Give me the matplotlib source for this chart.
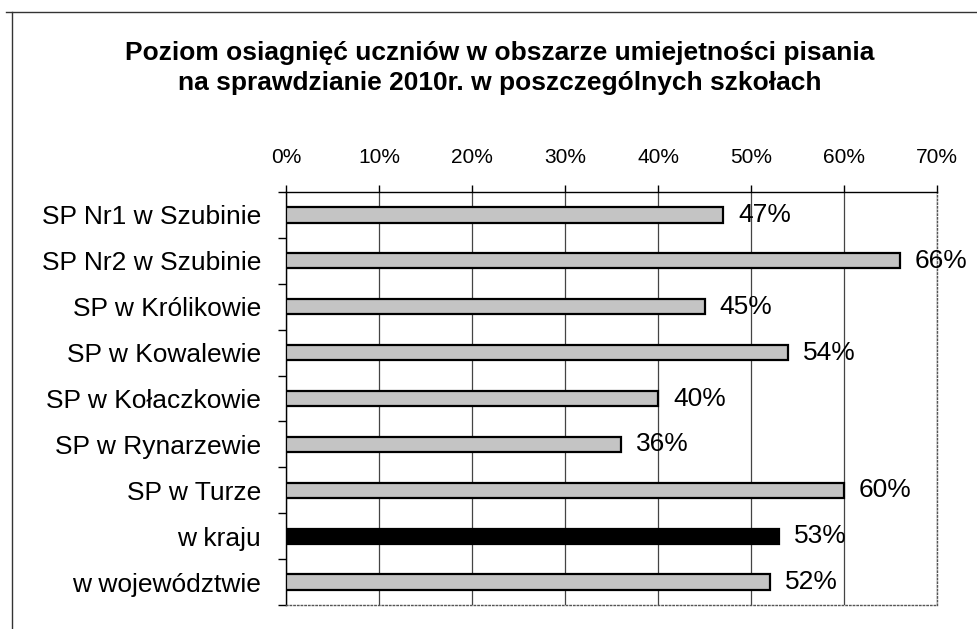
import matplotlib
matplotlib.use("Agg")
import matplotlib.pyplot as plt
from matplotlib.lines import Line2D

plt.rcParams['font.family'] = ['Liberation Sans', 'DejaVu Sans']

categories = ["SP Nr1 w Szubinie", "SP Nr2 w Szubinie", "SP w Królikowie",
              "SP w Kowalewie", "SP w Kołaczkowie", "SP w Rynarzewie",
              "SP w Turze", "w kraju", "w województwie"]
values = [47, 66, 45, 54, 40, 36, 60, 53, 52]
bar_colors = ["#c4c4c4"] * 7 + ["#000000", "#c4c4c4"]
value_labels = [f"{v}%" for v in values]
xticks = [0, 10, 20, 30, 40, 50, 60, 70]
xtick_labels = [f"{t}%" for t in xticks]
title = "Poziom osiagnięć uczniów w obszarze umiejetności pisania\nna sprawdzianie 2010r. w poszczególnych szkołach"

W, H = 978, 629
fig = plt.figure(figsize=(W / 100, H / 100), dpi=100)
ax = fig.add_axes([286 / W, 1 - 605 / H, (937 - 286) / W, (605 - 192) / H])

n = len(categories)
ypos = list(range(n))
ax.barh(ypos, values, height=0.33, color=bar_colors, edgecolor="black", linewidth=1.6, zorder=3)
ax.set_ylim(n - 0.5, -0.5)
ax.set_xlim(0, 70)

ax.set_xticks(xticks)
ax.set_xticklabels(xtick_labels, fontsize=15)
ax.xaxis.tick_top()
ax.tick_params(axis='x', which='major', length=5, pad=13, direction='out', color='black', width=1)

ax.set_yticks(ypos)
ax.set_yticklabels(categories, fontsize=19)
ax.tick_params(axis='y', which='major', length=0, pad=18)
ax.set_yticks([i + 0.5 for i in range(-1, n)], minor=True)
ax.tick_params(axis='y', which='minor', length=6, width=1, color='black')

ax.grid(axis='x', color='#444444', linewidth=0.9, zorder=0)

for s in ['top', 'left']:
    ax.spines[s].set_color('black')
    ax.spines[s].set_linewidth(1.0)
for s in ['right', 'bottom']:
    ax.spines[s].set_color('#555555')
    ax.spines[s].set_linewidth(1.0)
    ax.spines[s].set_linestyle(':')

for y, v, lab in zip(ypos, values, value_labels):
    ax.text(v + 1.6, y, lab, va='center', ha='left', fontsize=19, zorder=4)

fig.text(500 / W, 1 - 68 / H, title, ha='center', va='center', fontsize=19,
         fontweight='bold', linespacing=1.28)

fig.add_artist(Line2D([6 / W, 1.0], [1 - 12 / H, 1 - 12 / H], color='#333333', lw=1))
fig.add_artist(Line2D([12 / W, 12 / W], [0, 1 - 12 / H], color='#333333', lw=1))

fig.savefig("out.png", dpi=100)
